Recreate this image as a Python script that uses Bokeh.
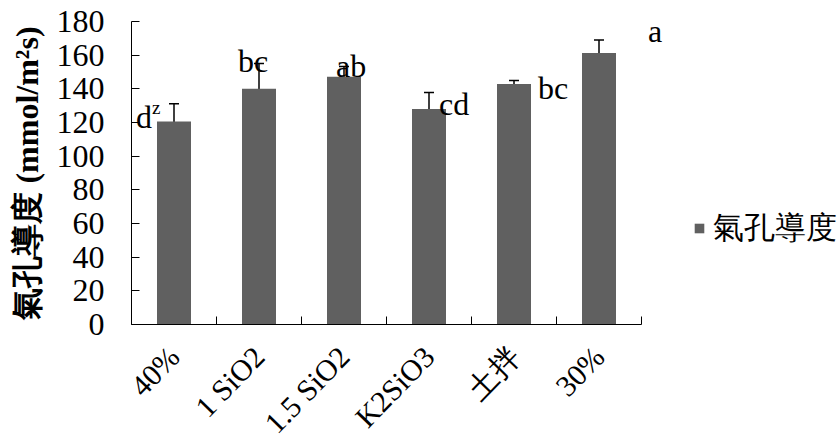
import math
import numpy as np
from bokeh.plotting import figure
from bokeh.models import (ColumnDataSource, Range1d, FixedTicker, Whisker, TeeHead,
                          Legend, LegendItem)
from bokeh.core.properties import value
from bokeh.embed import file_html
from bokeh.resources import INLINE

# ---- data ----
categories = ["40%", "1 SiO2", "1.5 SiO2", "K2SiO3", "土拌", "30%"]
conductance = [120.6, 140.0, 147.2, 128.0, 142.8, 161.3]
errors = [10.5, 15.0, 6.0, 9.8, 2.2, 7.7]
letters = ["d", "bc", "ab", "cd", "bc", "a"]
superscripts = ["z", "", "", "", "", ""]
y_ticks = [0, 20, 40, 60, 80, 100, 120, 140, 160, 180]
series_name = "氣孔導度"
y_title = "氣孔導度 (mmol/m²s)"

# ---- styling (pixel offsets of the letter labels relative to bar top) ----
letter_dx = [-38, -21, -8, 10, 24, 49]
letter_dy = [-4, -28, -11, -5, 4, -22]
sup_dx = [-22, 0, 0, 0, 0, 0]
sup_dy = [-14, 0, 0, 0, 0, 0]

SERIF = "Liberation Serif"
BAR_COLOR = "#606060"

AXIS_PX = 510          # pixel length of the category axis
FRAME_W = 706          # frame extends to the right edge so labels/legend are not clipped
FRAME_H = 303

n = len(categories)
xc = np.arange(n) + 0.5
src = ColumnDataSource(dict(
    x=xc, top=conductance,
    upper=np.array(conductance) + np.array(errors),
    lower=np.array(conductance) - np.array(errors),
    lab=letters, sup=superscripts,
    ldx=letter_dx, ldy=letter_dy, sdx=sup_dx, sdy=sup_dy,
))

p = figure(frame_width=FRAME_W, frame_height=FRAME_H,
           min_border_left=131, min_border_right=0,
           min_border_top=21, min_border_bottom=120,
           x_range=Range1d(0, n * FRAME_W / AXIS_PX), y_range=Range1d(0, 180),
           output_backend="svg", toolbar_location=None)
p.outline_line_color = None
p.xgrid.visible = False
p.ygrid.visible = False
p.background_fill_color = "white"
p.border_fill_color = "white"

bars = p.vbar(x="x", top="top", width=0.4, source=src,
              fill_color=BAR_COLOR, line_color=None)

wh = Whisker(source=src, base="x", upper="upper", lower="lower",
             line_color="black", line_width=1.5,
             upper_head=TeeHead(size=10, line_color="black", line_width=1.5),
             lower_head=TeeHead(size=10, line_color="black", line_width=1.5))
p.add_layout(wh)

p.text(x="x", y="top", text="lab", source=src, x_offset="ldx", y_offset="ldy",
       text_font=value(SERIF), text_font_size="32px", text_color="black",
       text_align="left", text_baseline="alphabetic")
p.text(x="x", y="top", text="sup", source=src, x_offset="sdx", y_offset="sdy",
       text_font=value(SERIF), text_font_size="19px", text_color="black",
       text_align="left", text_baseline="alphabetic")

# y axis
yax = p.yaxis[0]
yax.ticker = FixedTicker(ticks=y_ticks)
yax.major_tick_in = 8
yax.major_tick_out = 0
yax.minor_tick_in = 0
yax.minor_tick_out = 0
yax.major_label_standoff = 27
yax.major_label_text_font = SERIF
yax.major_label_text_font_size = "32px"
yax.major_label_text_color = "black"
yax.axis_line_color = "black"
yax.major_tick_line_color = "black"
yax.axis_label = y_title
yax.axis_label_text_font = SERIF
yax.axis_label_text_font_style = "bold"
yax.axis_label_text_font_size = "32px"
yax.axis_label_text_color = "black"
yax.axis_label_standoff = 9

# x axis: labels at centres, ticks at boundaries, line only over the categories
xax = p.xaxis[0]
xax.bounds = (0, n)
xax.ticker = FixedTicker(ticks=list(xc), minor_ticks=list(range(n + 1)))
xax.major_label_overrides = {float(v): c for v, c in zip(xc, categories)}
xax.major_tick_in = 0
xax.major_tick_out = 0
xax.minor_tick_in = 8
xax.minor_tick_out = 0
xax.minor_tick_line_color = "black"
xax.axis_line_color = "black"
xax.major_label_orientation = 0.8
xax.major_label_standoff = 27
xax.major_label_text_font = SERIF
xax.major_label_text_font_size = "30px"
xax.major_label_text_color = "black"

legend = Legend(items=[LegendItem(label=series_name, renderers=[bars])],
                location=(562, 75), orientation="vertical",
                padding=0, margin=0, border_line_color=None,
                background_fill_alpha=0, glyph_width=12, glyph_height=12,
                label_standoff=8, label_text_font=SERIF,
                label_text_font_size="31px", label_text_color="black")
p.add_layout(legend, "center")

open("out.html", "w").write(file_html(p, INLINE))
